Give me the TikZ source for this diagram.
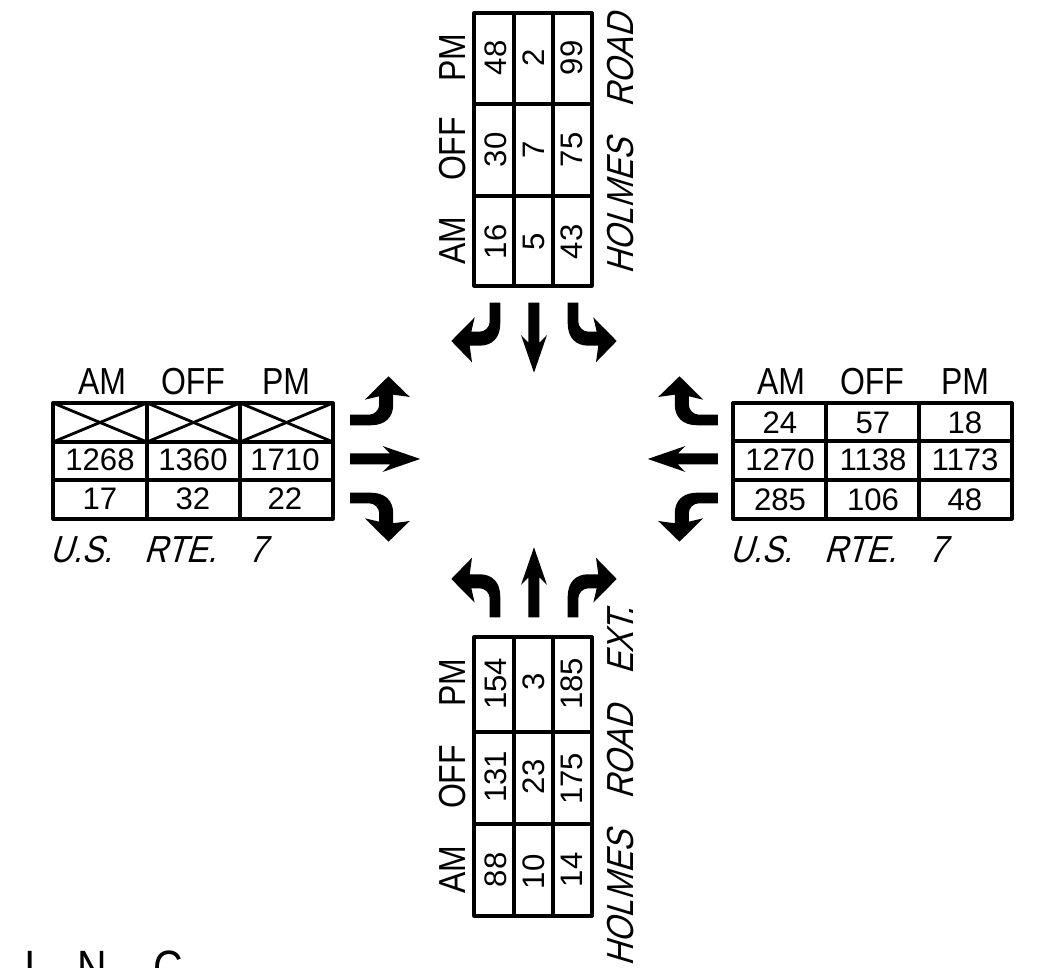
\documentclass[tikz,border=0pt]{standalone}
\usepackage{fontspec}
\setmainfont{Liberation Sans}
\newfontfamily\cadfont[FakeStretch=0.85]{Liberation Sans}
\newfontfamily\roadfont[FakeStretch=0.85,FakeSlant=0.3]{Liberation Sans}
\tikzset{
    gridline/.style={line width=0.9pt, line cap=round, line join=round},
    headtext/.style={inner sep=0pt, font=\cadfont\fontsize{10.7}{12}\selectfont},
    numtext/.style={inner sep=0pt, font=\fontsize{8.85}{10}\selectfont},
    roadtext/.style={inner sep=0pt, font={\roadfont\fontsize{10.7}{12}\selectfont\frenchspacing\spaceskip=0.85em\relax}},
    corptext/.style={inner sep=0pt, anchor=base, font=\cadfont\fontsize{13.7}{16}\selectfont}
}
\begin{document}
\begin{tikzpicture}[x=0.01cm, y=-0.01cm]
    \path[use as bounding box, clip] (0, 0) rectangle (1038, 968);

    % turning movement arrows, one set per approach
    \foreach \ang/\dx/\off in {0/0/0, 90/1/-26.5, 180/0/0, 270/-1/-26.5} {
        \begin{scope}[shift={(534, 460)}, rotate=\ang, shift={(\dx, \off)}]
            \fill (-5.5, -157.3) -- (-5.5, -117.3) -- (-13, -125) -- (0, -87.3)
                -- (13, -125) -- (5.5, -117.3) -- (5.5, -157.3) -- cycle;
            \foreach \s in {1, -1} {
                \fill[xscale=\s] (33.7, -157.3) -- (33.7, -136.7)
                    .. controls (33.7, -122) and (42, -114.3) .. (54.3, -114.3)
                    -- (64.3, -114.3) -- (62, -97.7) -- (82.7, -119) -- (59.3, -142.7)
                    -- (62.7, -128.3) -- (54.3, -128.3)
                    .. controls (49, -128.3) and (44.3, -133) .. (44.3, -138.3)
                    -- (44.3, -157.3) -- cycle;
            }
        \end{scope}
    }

    % west table
    \draw[gridline] (53, 403) rectangle (333, 519);
    \foreach \x in {147, 240} {
        \draw[gridline] (\x, 403) -- (\x, 519);
    }
    \foreach \y in {442, 480} {
        \draw[gridline] (53, \y) -- (333, \y);
    }
    \foreach \a/\b in {53/147, 147/240, 240/333} {
        \draw[line width=0.8pt] (\a, 403) -- (\b, 442);
        \draw[line width=0.8pt] (\a, 442) -- (\b, 403);
    }
    \foreach \x/\t/\n in {102/AM/wam, 193/OFF/woff, 286/PM/wpm} {
        \node[headtext] (\n) at (\x, 382) {\t};
    }
    \foreach \x/\y/\t/\n in {100/460/1268/wa, 193/460/1360/wb, 285/460/1710/wc,
                             100/499/17/wd, 193/499/32/we, 285/499/22/wf} {
        \node[numtext] (\n) at (\x, \y) {\t};
    }
    \node[roadtext, anchor=base west] (wroad) at (49, 563) {\spaceskip=0.85em\relax U.S. RTE. 7};

    % east table
    \draw[gridline] (733, 403) rectangle (1012, 519);
    \foreach \x in {826, 919} {
        \draw[gridline] (\x, 403) -- (\x, 519);
    }
    \foreach \y in {441, 480} {
        \draw[gridline] (733, \y) -- (1012, \y);
    }
    \foreach \x/\t/\n in {781/AM/eam, 872/OFF/eoff, 965/PM/epm} {
        \node[headtext] (\n) at (\x, 382) {\t};
    }
    \foreach \x/\y/\t/\n in {780/423/24/ea, 873/423/57/eb, 965/423/18/ec,
                             780/460/1270/ed, 873/460/1138/ee, 965/460/1173/ef,
                             780/500/285/eg, 873/500/106/eh, 965/500/48/ei} {
        \node[numtext] (\n) at (\x, \y) {\t};
    }
    \node[roadtext, anchor=base west] (eroad) at (729, 563) {\spaceskip=0.85em\relax U.S. RTE. 7};

    % north table
    \draw[gridline] (474, 13) rectangle (592, 286);
    \foreach \x in {514, 553} {
        \draw[gridline] (\x, 13) -- (\x, 286);
    }
    \foreach \y in {104, 196} {
        \draw[gridline] (474, \y) -- (592, \y);
    }
    \foreach \y/\t/\n in {241/AM/nam, 149/OFF/noff, 58/PM/npm} {
        \node[headtext, rotate=90] (\n) at (453, \y) {\t};
    }
    \foreach \x/\y/\t/\n in {496/58/48/na, 534/58/2/nb, 572/58/99/nc,
                             496/150/30/nd, 534/150/7/ne, 572/150/75/nf,
                             496/242/16/ng, 534/242/5/nh, 572/242/43/ni} {
        \node[numtext, rotate=90] (\n) at (\x, \y) {\t};
    }
    \node[roadtext, rotate=90, anchor=base west] (nroad) at (634, 275) {HOLMES ROAD};

    % south table
    \draw[gridline] (474, 637) rectangle (592, 916);
    \foreach \x in {514, 553} {
        \draw[gridline] (\x, 637) -- (\x, 916);
    }
    \foreach \y in {732, 824} {
        \draw[gridline] (474, \y) -- (592, \y);
    }
    \foreach \y/\t/\n in {870/AM/sam, 777/OFF/soff, 683/PM/spm} {
        \node[headtext, rotate=90] (\n) at (453, \y) {\t};
    }
    \foreach \x/\y/\t/\n in {496/684/154/sa, 534/682/3/sb, 572/684/185/sc,
                             496/777/131/sd, 534/777/23/se, 572/779/175/sf,
                             496/870/88/sg, 534/872/10/sh, 572/870/14/si} {
        \node[numtext, rotate=90] (\n) at (\x, \y) {\t};
    }
    \node[roadtext, rotate=90, anchor=base west] (sroad) at (634, 967) {HOLMES ROAD EXT.};

    % lettering cut off by the lower edge
    \foreach \x/\t/\n in {30/I/ci, 92.5/N/cn, 168/C/cc} {
        \node[corptext] (\n) at (\x, 985) {\t};
    }
\end{tikzpicture}
\end{document}
